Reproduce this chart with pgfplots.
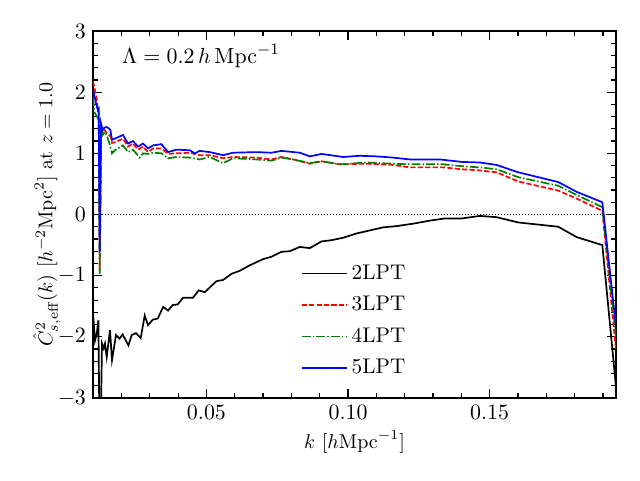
\documentclass[border=0pt]{standalone}
\usepackage{pgfplots}
\pgfplotsset{compat=1.18}
\definecolor{mplgreen}{RGB}{0,128,0}
\definecolor{mplblue}{RGB}{0,0,255}
\definecolor{mplred}{RGB}{255,0,0}
\newcommand{\ft}{\fontsize{10.95}{13}\selectfont}
\newcommand{\fs}{\fontsize{10}{12}\selectfont}
\newcommand{\fl}{\fontsize{10.6}{12.6}\selectfont}
\begin{document}
\begin{tikzpicture}
\useasboundingbox (-46.5pt,-41pt) rectangle (273.5pt,199pt);
\begin{axis}[
  scale only axis, width=261.5pt, height=183.5pt,
  xmin=0.00993, xmax=0.19463, ymin=-3, ymax=3,
  xtick={0.05,0.1,0.15}, xticklabels={$0.05$,$0.10$,$0.15$},
  minor xtick={0.01,0.02,0.03,0.04,0.06,0.07,0.08,0.09,0.11,0.12,0.13,0.14,0.16,0.17,0.18,0.19},
  ytick={-3,-2,-1,0,1,2,3}, minor y tick num=4,
  tick align=inside,
  major tick length=4.5pt, minor tick length=2.3pt,
  every tick/.style={black, line width=0.6pt},
  axis line style={line width=0.9pt},
  tick label style={font=\ft},
  xlabel={$k$ $[h\mathrm{Mpc}^{-1}]$},
  ylabel={$\hat{C}^2_{s,\mathrm{eff}}(k)$ $[h^{-2}\mathrm{Mpc}^2]$ at $z=1.0$},
  xlabel style={font=\fs, at={(rel axis cs:0.5,-0.12)}, anchor=center},
  ylabel style={font=\fs, at={(rel axis cs:-0.088,0.5)}, anchor=center, rotate=0},
  legend style={draw=none, fill=none, at={(rel axis cs:0.397,0.375)}, anchor=north west,
    font=\fl, row sep=3pt, inner sep=0pt},
  legend cell align=left,
  legend image code/.code={\draw[#1] (0pt,0pt) -- (22.5pt,0pt);},
]
\addplot[black, line width=0.5pt, dash pattern=on 0.6pt off 0.9pt, forget plot] coordinates {(0.00993,0) (0.19463,0)};

\addplot[black, line width=0.85pt] coordinates {
(0.00993,-1.60) (0.01064,-2.06) (0.01124,-1.95) (0.01184,-1.73) (0.01220,-3.5) (0.01265,-3.5) (0.01311,-2.11) (0.01371,-2.19) (0.01417,-2.11) (0.01477,-2.33) (0.01594,-1.89) (0.01664,-2.38) (0.01806,-1.97) (0.01926,-2.03) (0.02042,-1.96) (0.02244,-2.14) (0.02360,-1.97) (0.02512,-1.94) (0.02678,-2.02) (0.02820,-1.65) (0.02936,-1.81) (0.03102,-1.72) (0.03280,-1.70) (0.03473,-1.51) (0.03643,-1.57) (0.03810,-1.48) (0.03986,-1.47) (0.04173,-1.36) (0.04527,-1.36) (0.04728,-1.24) (0.04940,-1.27) (0.05353,-1.09) (0.05587,-1.07) (0.05883,-0.97) (0.06177,-0.92) (0.06530,-0.83) (0.07000,-0.73) (0.07297,-0.69) (0.07650,-0.61) (0.07943,-0.60) (0.08297,-0.53) (0.08650,-0.55) (0.09064,-0.44) (0.09417,-0.42) (0.09827,-0.38) (0.10300,-0.31) (0.10770,-0.26) (0.11240,-0.21) (0.11714,-0.19) (0.12297,-0.15) (0.12890,-0.10) (0.13420,-0.065) (0.14010,-0.065) (0.14654,-0.023) (0.15244,-0.044) (0.16010,-0.13) (0.17424,-0.20) (0.18074,-0.37) (0.18980,-0.50) (0.19463,-2.82)
};
\addlegendentry{2LPT}

\addplot[mplred, line width=0.85pt, dash pattern=on 2.6pt off 1.1pt] coordinates {
(0.00993,2.18) (0.01124,1.90) (0.01161,1.71) (0.01194,1.67) (0.01230,-0.90) (0.01283,1.43) (0.01336,1.33) (0.01406,1.38) (0.01477,1.33) (0.01608,1.28) (0.01664,1.17) (0.01760,1.18) (0.02053,1.24) (0.02230,1.11) (0.02406,1.16) (0.02583,1.06) (0.02760,1.11) (0.02936,1.02) (0.03113,1.08) (0.03410,1.08) (0.03643,0.99) (0.03940,1.00) (0.04410,1.01) (0.04763,0.97) (0.05117,0.97) (0.05587,0.92) (0.05940,0.94) (0.06767,0.93) (0.07297,0.90) (0.07650,0.94) (0.08060,0.90) (0.08650,0.83) (0.09064,0.87) (0.09710,0.82) (0.10654,0.83) (0.11594,0.81) (0.12184,0.77) (0.13360,0.77) (0.14010,0.74) (0.14654,0.72) (0.15244,0.69) (0.16010,0.54) (0.17424,0.39) (0.18074,0.26) (0.18980,0.06) (0.19463,-2.22)
};
\addlegendentry{3LPT}

\addplot[mplgreen, line width=0.85pt, dash pattern=on 4.4pt off 1.1pt on 0.7pt off 1.1pt] coordinates {
(0.00993,1.92) (0.01046,1.67) (0.01134,1.60) (0.01194,1.54) (0.01230,-0.97) (0.01283,1.38) (0.01336,1.30) (0.01406,1.35) (0.01477,1.30) (0.01594,1.13) (0.01664,1.00) (0.01760,1.05) (0.02053,1.13) (0.02230,1.02) (0.02406,1.06) (0.02643,0.93) (0.02760,1.00) (0.02936,0.99) (0.03113,1.01) (0.03410,1.00) (0.03643,0.92) (0.03940,0.94) (0.04410,0.93) (0.04763,0.90) (0.05117,0.94) (0.05587,0.84) (0.05940,0.92) (0.06767,0.90) (0.07297,0.88) (0.07650,0.93) (0.08060,0.90) (0.08650,0.84) (0.09064,0.87) (0.09710,0.82) (0.10654,0.85) (0.11594,0.83) (0.12184,0.82) (0.13360,0.82) (0.14010,0.79) (0.14654,0.77) (0.15244,0.74) (0.16010,0.61) (0.17424,0.47) (0.18074,0.32) (0.18980,0.12) (0.19463,-2.00)
};
\addlegendentry{4LPT}

\addplot[mplblue, line width=0.85pt] coordinates {
(0.00993,2.04) (0.01101,1.82) (0.01161,1.71) (0.01194,1.73) (0.01230,-0.61) (0.01276,1.49) (0.01336,1.38) (0.01396,1.42) (0.01477,1.43) (0.01548,1.41) (0.01608,1.38) (0.01664,1.22) (0.01760,1.24) (0.02053,1.30) (0.02230,1.16) (0.02406,1.20) (0.02583,1.11) (0.02760,1.16) (0.02936,1.08) (0.03113,1.13) (0.03410,1.15) (0.03643,1.02) (0.03940,1.06) (0.04410,1.05) (0.04587,1.00) (0.04763,1.04) (0.05117,1.02) (0.05587,0.97) (0.05940,1.01) (0.06767,1.02) (0.07297,1.01) (0.07650,1.04) (0.08297,1.01) (0.08650,0.95) (0.09064,0.99) (0.09827,0.94) (0.10417,0.96) (0.11007,0.95) (0.11594,0.93) (0.12184,0.90) (0.13244,0.90) (0.14010,0.86) (0.14654,0.85) (0.15244,0.81) (0.16010,0.69) (0.17424,0.53) (0.18074,0.37) (0.18980,0.20) (0.19463,-1.84)
};
\addlegendentry{5LPT}

\node[anchor=base west, inner sep=0pt, font=\fontsize{10.95}{13}\selectfont] at (rel axis cs:0.055,0.912) {$\Lambda = 0.2\,h\,\mathrm{Mpc}^{-1}$};
\end{axis}
\end{tikzpicture}
\end{document}
